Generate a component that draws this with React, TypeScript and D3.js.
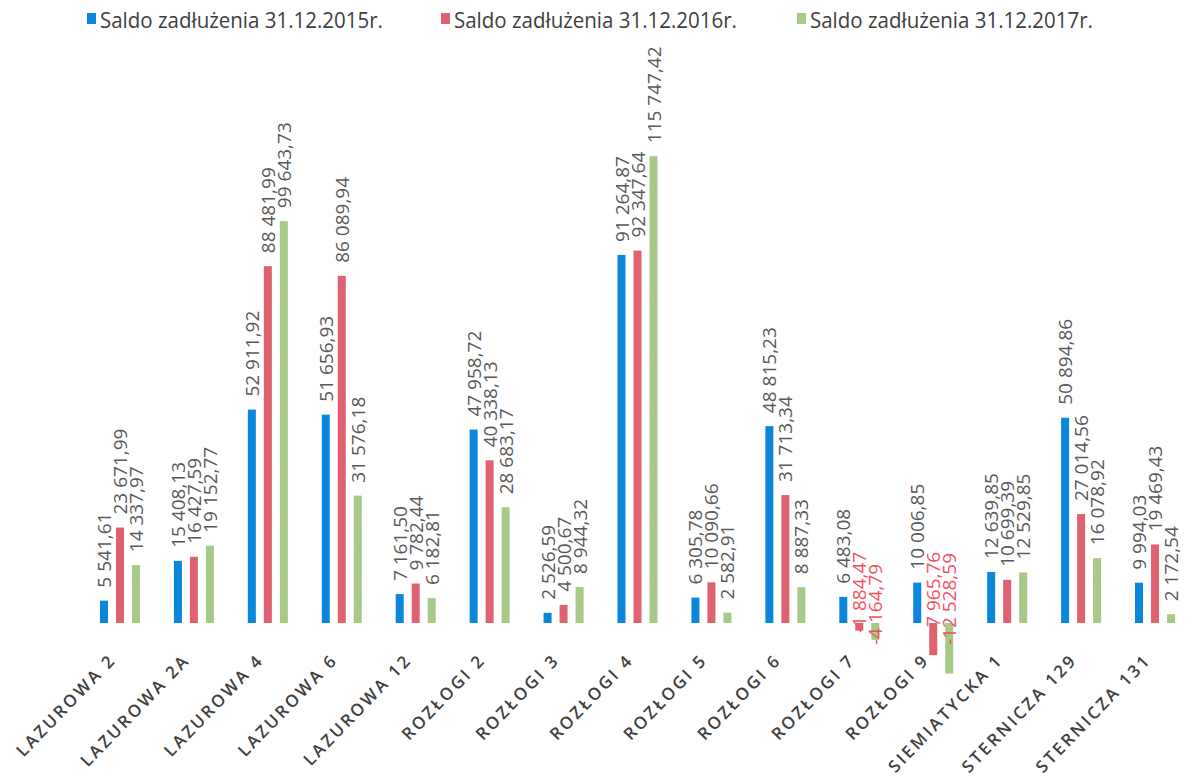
import React from "react";
import * as d3 from "d3";

const categories = [
  "LAZUROWA 2", "LAZUROWA 2A", "LAZUROWA 4", "LAZUROWA 6", "LAZUROWA 12",
  "ROZŁOGI 2", "ROZŁOGI 3", "ROZŁOGI 4", "ROZŁOGI 5", "ROZŁOGI 6",
  "ROZŁOGI 7", "ROZŁOGI 9", "SIEMIATYCKA 1", "STERNICZA 129", "STERNICZA 131",
];
const seriesNames = [
  "Saldo zadłużenia 31.12.2015r.",
  "Saldo zadłużenia 31.12.2016r.",
  "Saldo zadłużenia 31.12.2017r.",
];
const values2015 = [5541.61, 15408.13, 52911.92, 51656.93, 7161.5, 47958.72, 2526.59, 91264.87, 6305.78, 48815.23, 6483.08, 10006.85, 12639.85, 50894.86, 9994.03];
const values2016 = [23671.99, 16427.59, 88481.99, 86089.94, 9782.44, 40338.13, 4500.67, 92347.64, 10090.66, 31713.34, -1884.47, -7965.76, 10699.39, 27014.56, 19469.43];
const values2017 = [14337.97, 19152.77, 99643.73, 31576.18, 6182.81, 28683.17, 8944.32, 115747.42, 2582.91, 8887.33, -4164.79, -12528.59, 12529.85, 16078.92, 2172.54];
const seriesColors = ["#0a86da", "#df6271", "#a6ca88"];

const allSeries = [values2015, values2016, values2017];

const W = 1192;
const H = 777;
const yDomain = [-20000, 120000];

function fmt(v: number): string {
  const s = Math.abs(v).toFixed(2).replace(".", ",");
  const [ip, dp] = s.split(",");
  const grouped = ip.replace(/\B(?=(\d{3})+(?!\d))/g, " ");
  return (v < 0 ? "-" : "") + grouped + "," + dp;
}

export default function App() {
  const x0 = d3.scaleBand<string>().domain(categories).range([83, 1192]).padding(0);
  const bw = x0.bandwidth();
  const groupW = 48;
  const x1 = d3
    .scaleBand<string>()
    .domain(seriesNames)
    .range([(bw - groupW) / 2, (bw + groupW) / 2])
    .paddingInner(0.5)
    .paddingOuter(0.25);
  const y = d3.scaleLinear().domain(yDomain).range([623 + 20000 * 0.004033, 623 - 120000 * 0.004033]);
  const y0 = y(0);

  const labelFont = "'Open Sans', sans-serif";
  const legendX = [87, 441, 797];

  return (
    <svg width={W} height={H} style={{ position: "absolute", left: 0, top: 0, background: "#fff" }}>
      <defs>
        <pattern id="greenTex" width="6" height="7" patternUnits="userSpaceOnUse">
          <rect width="6" height="7" fill={seriesColors[2]} />
          <rect x="1" y="2" width="1" height="1" fill="#e58a8a" opacity="0.6" />
          <rect x="4" y="5" width="1" height="1" fill="#d9a0a0" opacity="0.5" />
        </pattern>
      </defs>
      {/* legend */}
      {seriesNames.map((n, i) => (
        <g key={n}>
          <rect x={legendX[i]} y={13} width={9} height={11} fill={seriesColors[i]} />
          <text
            transform={`translate(${legendX[i] + 13},28) scale(1,1.1)`}
            fontFamily={labelFont}
            fontSize={20.5}
            fill="#404040"
          >
            {n}
          </text>
        </g>
      ))}
      {/* bars */}
      {categories.map((c, ci) => (
        <g key={c} transform={`translate(${x0(c)},0)`}>
          {allSeries.map((vals, si) => {
            const v = vals[ci];
            const bx = x1(seriesNames[si])!;
            const top = Math.min(y(v), y0);
            const h = Math.abs(y(v) - y0);
            return (
              <rect
                key={si}
                x={bx}
                y={top}
                width={x1.bandwidth()}
                height={h}
                fill={si === 2 ? "url(#greenTex)" : seriesColors[si]}
              />
            );
          })}
        </g>
      ))}
      {/* data labels */}
      {categories.map((c, ci) => (
        <g key={c + "l"} transform={`translate(${x0(c)},0)`}>
          {allSeries.map((vals, si) => {
            const v = vals[ci];
            const cx = x1(seriesNames[si])! + x1.bandwidth() / 2 + 7;
            const neg = v < 0;
            const ly = neg ? y0 + (si === 1 ? 10 : 22) : y(v) - 13;
            return (
              <text
                key={si}
                transform={`translate(${cx},${ly}) rotate(-90)`}
                fontFamily={labelFont}
                fontSize={19}
                fill={neg ? "#f2505f" : "#595959"}
                textAnchor="start"
              >
                {fmt(v)}
              </text>
            );
          })}
        </g>
      ))}
      {/* category labels */}
      {categories.map((c) => {
        const cx = x0(c)! + bw / 2;
        return (
          <text
            key={c + "c"}
            transform={`translate(${cx - 3},${y0 + 38}) rotate(-46)`}
            textAnchor="end"
            fontFamily={labelFont}
            fontSize={17}
            fontWeight={600}
            letterSpacing={2.6}
            fill="#404040"
          >
            {c}
          </text>
        );
      })}
    </svg>
  );
}
